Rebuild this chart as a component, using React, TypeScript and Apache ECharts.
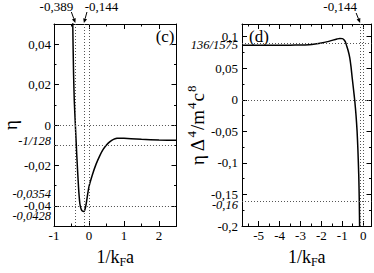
import React, { useEffect, useRef } from "react";
import * as echarts from "echarts";

// ---------- data ----------
const cX = [-0.468, -0.455, -0.44, -0.42, -0.389, -0.35, -0.3, -0.26, -0.22, -0.18, -0.144, -0.12, -0.08, -0.04, 0, 0.1, 0.2, 0.3, 0.4, 0.5, 0.6, 0.7, 0.8, 0.9, 1.0, 1.2, 1.5, 2.0, 2.5];
const cEta = [0.056, 0.04, 0.025, 0.012, 0, -0.0145, -0.0305, -0.039, -0.0418, -0.0427, -0.0428, -0.0421, -0.039, -0.0345, -0.0305, -0.0245, -0.0195, -0.0155, -0.0122, -0.0099, -0.0082, -0.0071, -0.0066, -0.0065, -0.0066, -0.0068, -0.0071, -0.0074, -0.0076];

const dX = [-5.8, -4.5, -3.5, -3, -2.6, -2.3, -2, -1.7, -1.45, -1.25, -1.12, -1.0, -0.92, -0.85, -0.8, -0.72, -0.64, -0.58, -0.53, -0.47, -0.4, -0.34, -0.29, -0.25, -0.21, -0.185, -0.168];
const dEta = [0.0864, 0.0864, 0.0865, 0.0867, 0.0873, 0.0883, 0.0898, 0.0921, 0.0945, 0.0963, 0.0972, 0.0968, 0.0952, 0.0917, 0.0865, 0.078, 0.0665, 0.052, 0.0365, 0.019, -0.002, -0.025, -0.05, -0.08, -0.12, -0.16, -0.206];

const cXMajor = [-1, 0, 1, 2];
const cXMinor = [-0.5, 0.5, 1.5];
const cYMajor = [-0.04, -0.02, 0, 0.02, 0.04];
const cYMinor = [-0.03, -0.01, 0.01, 0.03];
const dXMajor = [-5, -4, -3, -2, -1, 0];
const dXMinor = [-5.5, -4.5, -3.5, -2.5, -1.5, -0.5];
const dYMajor = [-0.2, -0.15, -0.1, -0.05, 0, 0.05, 0.1];
const dYMinor = [-0.175, -0.125, -0.075, -0.025, 0.025, 0.075];

const cHLines = [0, -1 / 128, -0.0354, -0.0428];
const cVLines = [-0.389, -0.144, 0];
const dHLines = [136 / 1575, 0, -0.16];
const dVLines = [-0.144, 0];

const cSpecialValues = [-1 / 128, -0.0354, -0.0428];
const cSpecialTexts = ["-1/128", "-0,0354", "-0,0428"];
const dSpecialValues = [136 / 1575, -0.16];
const dSpecialTexts = ["136/1575", "-0,16"];

const cArrowValues = [-0.389, -0.144];
const cArrowTexts = ["-0,389", "-0,144"];
const dArrowValues = [-0.144];
const dArrowTexts = ["-0,144"];

const cRange = { xMin: -1, xMax: 2.5, yMin: -0.05, yMax: 0.05 };
const dRange = { xMin: -5.8, xMax: 0.4, yMin: -0.2, yMax: 0.12 };

// ---------- helpers ----------
const FONT = "Liberation Serif, DejaVu Serif, serif";
const fmt = (v: number) => String(Number(Number(v).toFixed(4))).replace(".", ",");

function mkAxis(o: any) {
  return {
    type: "value",
    gridIndex: o.gridIndex,
    min: o.min,
    max: o.max,
    position: o.position,
    axisLine: { show: o.line, onZero: false, lineStyle: { color: "#000", width: 1 } },
    axisTick: { show: true, inside: true, length: o.len, customValues: o.ticks, lineStyle: { color: "#000", width: 1 } },
    minorTick: { show: false },
    splitLine: { show: false },
    axisLabel: o.labels
      ? { show: true, customValues: o.ticks, formatter: fmt, margin: o.margin, color: "#000", fontFamily: FONT, fontSize: 13 }
      : { show: false },
    ...(o.extra || {}),
  };
}

const xName = {
  name: "1/k{sub|F}a",
  nameLocation: "middle",
  nameGap: 19,
  nameTextStyle: {
    color: "#000",
    fontFamily: FONT,
    fontSize: 18,
    rich: { sub: { fontFamily: FONT, fontSize: 12, color: "#000", padding: [11, 0, 0, 0] } },
  },
};

function buildOption() {
  const xAxis = [
    mkAxis({ gridIndex: 0, min: cRange.xMin, max: cRange.xMax, position: "bottom", ticks: cXMajor, len: 5, line: true, labels: true, margin: 3, extra: xName }),
    mkAxis({ gridIndex: 0, min: cRange.xMin, max: cRange.xMax, position: "bottom", ticks: cXMinor, len: 2.5, line: false }),
    mkAxis({ gridIndex: 0, min: cRange.xMin, max: cRange.xMax, position: "top", ticks: cXMajor, len: 5, line: true }),
    mkAxis({ gridIndex: 0, min: cRange.xMin, max: cRange.xMax, position: "top", ticks: cXMinor, len: 2.5, line: false }),
    mkAxis({ gridIndex: 1, min: dRange.xMin, max: dRange.xMax, position: "bottom", ticks: dXMajor, len: 5, line: true, labels: true, margin: 3, extra: xName }),
    mkAxis({ gridIndex: 1, min: dRange.xMin, max: dRange.xMax, position: "bottom", ticks: dXMinor, len: 2.5, line: false }),
    mkAxis({ gridIndex: 1, min: dRange.xMin, max: dRange.xMax, position: "top", ticks: dXMajor, len: 5, line: true }),
    mkAxis({ gridIndex: 1, min: dRange.xMin, max: dRange.xMax, position: "top", ticks: dXMinor, len: 2.5, line: false }),
  ];
  const yAxis = [
    mkAxis({
      gridIndex: 0, min: cRange.yMin, max: cRange.yMax, position: "left", ticks: cYMajor, len: 5, line: true, labels: true, margin: 3,
      extra: { name: "η", nameLocation: "middle", nameGap: 28, nameTextStyle: { color: "#000", fontFamily: FONT, fontSize: 19 } },
    }),
    mkAxis({ gridIndex: 0, min: cRange.yMin, max: cRange.yMax, position: "left", ticks: cYMinor, len: 2.5, line: false }),
    mkAxis({ gridIndex: 0, min: cRange.yMin, max: cRange.yMax, position: "right", ticks: cYMajor, len: 5, line: true }),
    mkAxis({ gridIndex: 0, min: cRange.yMin, max: cRange.yMax, position: "right", ticks: cYMinor, len: 2.5, line: false }),
    mkAxis({
      gridIndex: 1, min: dRange.yMin, max: dRange.yMax, position: "left", ticks: dYMajor, len: 5, line: true, labels: true, margin: 4,
      extra: {
        name: "η Δ{sup|4}/m{sup|4}c{sup|8}",
        nameLocation: "middle",
        nameGap: 33,
        nameTextStyle: {
          color: "#000", fontFamily: FONT, fontSize: 19,
          rich: { sup: { fontFamily: FONT, fontSize: 13, color: "#000", padding: [0, 1, 11, 1] } },
        },
      },
    }),
    mkAxis({ gridIndex: 1, min: dRange.yMin, max: dRange.yMax, position: "left", ticks: dYMinor, len: 2.5, line: false }),
    mkAxis({ gridIndex: 1, min: dRange.yMin, max: dRange.yMax, position: "right", ticks: dYMajor, len: 5, line: true }),
    mkAxis({ gridIndex: 1, min: dRange.yMin, max: dRange.yMax, position: "right", ticks: dYMinor, len: 2.5, line: false }),
  ];

  const markLine = (h: number[], v: number[]) => ({
    silent: true,
    symbol: ["none", "none"],
    animation: false,
    label: { show: false },
    emphasis: { disabled: true },
    lineStyle: { color: "#555", type: [1, 2], width: 1 },
    data: [...h.map((y) => ({ yAxis: y })), ...v.map((x) => ({ xAxis: x }))],
  });

  return {
    animation: false,
    backgroundColor: "#fff",
    grid: [
      { left: 45, top: 24, width: 131.5, height: 213.5 },
      { left: 242, top: 24, width: 129.5, height: 213 },
    ],
    xAxis,
    yAxis,
    series: [
      {
        type: "line",
        xAxisIndex: 0,
        yAxisIndex: 0,
        data: cX.map((x, i) => [x, cEta[i]]),
        showSymbol: false,
        smooth: 0.2,
        clip: true,
        silent: true,
        lineStyle: { color: "#000", width: 1.5 },
        markLine: markLine(cHLines, cVLines),
      },
      {
        type: "line",
        xAxisIndex: 4,
        yAxisIndex: 4,
        data: dX.map((x, i) => [x, dEta[i]]),
        showSymbol: false,
        smooth: 0.2,
        clip: true,
        silent: true,
        lineStyle: { color: "#000", width: 1.5 },
        markLine: markLine(dHLines, dVLines),
      },
    ],
  };
}

function arrow(tail: number[], tip: number[]) {
  const dx = tip[0] - tail[0];
  const dy = tip[1] - tail[1];
  const L = Math.hypot(dx, dy);
  const ux = dx / L, uy = dy / L;
  const nx = -uy, ny = ux;
  const hl = 4.5, hw = 2;
  const base = [tip[0] - ux * hl, tip[1] - uy * hl];
  return [
    { type: "line", silent: true, shape: { x1: tail[0], y1: tail[1], x2: base[0], y2: base[1] }, style: { stroke: "#000", lineWidth: 1 } },
    {
      type: "polygon", silent: true,
      shape: { points: [tip, [base[0] + nx * hw, base[1] + ny * hw], [base[0] - nx * hw, base[1] - ny * hw]] },
      style: { fill: "#000" },
    },
  ];
}

function buildGraphic(chart: any) {
  const g: any[] = [];
  const px = (si: number, x: number, y: number) => chart.convertToPixel({ seriesIndex: si }, [x, y]);
  const txt = (x: number, y: number, text: string, align: string, size: number, italic = false) => ({
    type: "text", silent: true, x, y,
    style: { text, fill: "#000", fontFamily: FONT, fontSize: size, fontStyle: italic ? "italic" : "normal", align, verticalAlign: "middle" },
  });

  const cLabelDy = [0, -2.5, 5];
  cSpecialValues.forEach((v, i) => {
    const p = px(0, cRange.xMin, v);
    g.push(txt(p[0] - 3, p[1] + cLabelDy[i], cSpecialTexts[i], "right", 12.5, true));
  });
  const dLabelDy = [0, 4.5];
  dSpecialValues.forEach((v, i) => {
    const p = px(1, dRange.xMin, v);
    g.push(txt(p[0] - 4, p[1] + dLabelDy[i], dSpecialTexts[i], "right", 12.5, true));
  });

  const cTailDx = [-4, 3];
  const cTextDx = [-19, 17.5];
  cArrowValues.forEach((v, i) => {
    const p = px(0, v, cRange.yMax);
    g.push(...arrow([p[0] + cTailDx[i], p[1] - 12], [p[0], p[1] - 1]));
    g.push(txt(p[0] + cTextDx[i], 6.5, cArrowTexts[i], "center", 13));
  });
  dArrowValues.forEach((v, i) => {
    const p = px(1, v, dRange.yMax);
    g.push(...arrow([p[0] - 4, p[1] - 11], [p[0], p[1] - 1]));
    g.push(txt(p[0] - 20, 6.5, dArrowTexts[i], "center", 13));
  });

  const pc = px(0, cRange.xMax, cRange.yMax);
  g.push(txt(pc[0] - 2, pc[1] + 12, "(c)", "right", 17));
  const pd = px(1, dRange.xMin, dRange.yMax);
  g.push(txt(pd[0] + 7, pd[1] + 12, "(d)", "left", 17));

  return g;
}

export default function App() {
  const ref = useRef<HTMLDivElement>(null);
  useEffect(() => {
    const chart = echarts.init(ref.current!, null, { renderer: "svg" });
    chart.setOption(buildOption() as any);
    chart.setOption({ graphic: buildGraphic(chart) } as any);
    return () => chart.dispose();
  }, []);
  return <div ref={ref} style={{ position: "fixed", left: 0, top: 0, width: 374, height: 273, background: "#fff" }} />;
}
